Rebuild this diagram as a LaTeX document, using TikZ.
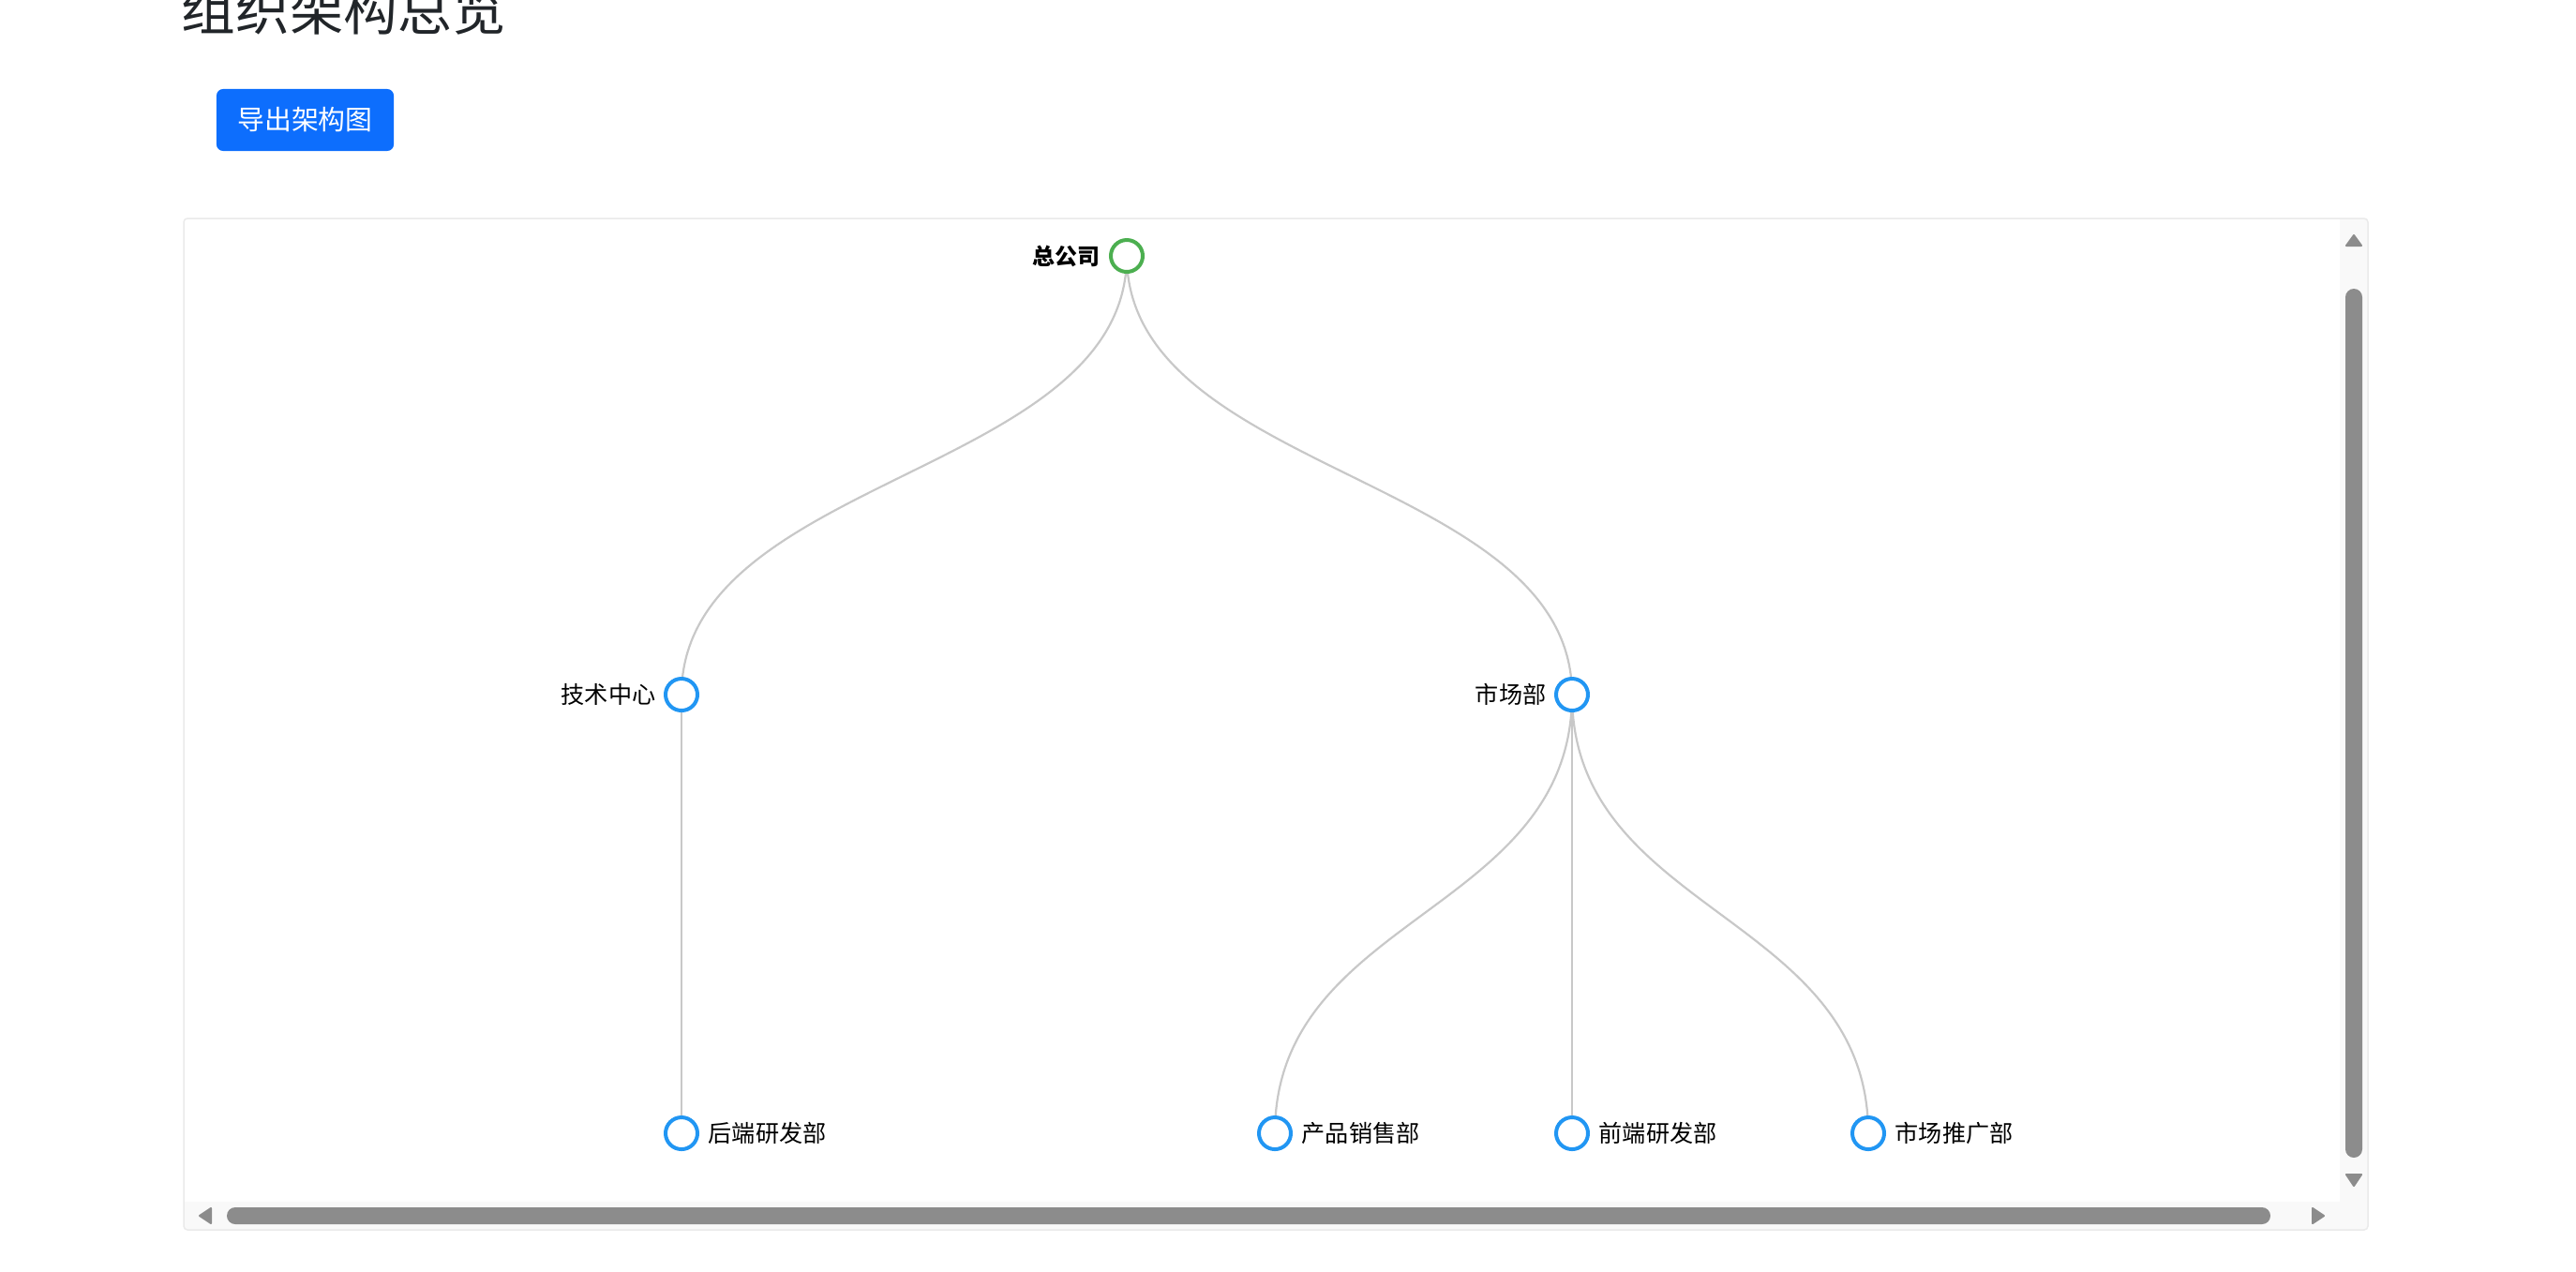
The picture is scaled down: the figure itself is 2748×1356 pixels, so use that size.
\documentclass[tikz,border=0pt]{standalone}
\usepackage{fontspec}
\setmainfont{Noto Sans CJK SC}
\usetikzlibrary{calc}
\definecolor{titlec}{HTML}{212529}
\definecolor{btnc}{HTML}{0D6EFD}
\definecolor{ngreen}{HTML}{4CAF50}
\definecolor{nblue}{HTML}{2196F3}
\definecolor{linkc}{HTML}{C8C8C8}
\definecolor{panelc}{HTML}{EAEAEA}
\definecolor{trackc}{HTML}{F9F9F9}
\definecolor{thumbc}{HTML}{8C8C8C}
\pgfdeclarelayer{bg}
\pgfsetlayers{bg,main}
\tikzset{
  nd/.style={circle, draw=#1, line width=0.04cm, fill=white, minimum size=0.34cm, inner sep=0pt},
  nd/.default=nblue,
  lbl/.style={inner sep=0pt, text=black, font=\fontsize{7.15pt}{7.2pt}\selectfont},
  link/.style={draw=linkc, line width=0.022cm},
  tri/.style={fill=thumbc, draw=thumbc, line width=0.02cm, line join=round}
}
\begin{document}
\begin{tikzpicture}[x=0.01cm, y=-0.01cm]
\useasboundingbox (0,0) rectangle (2748,1356);
\clip (0,0) rectangle (2748,1356);
% title
\node[anchor=west, inner sep=0pt, text=titlec, font=\fontsize{16.4pt}{16.4pt}\selectfont] (title) at (193,11) {组织架构总览};
% button
\node[fill=btnc, rounded corners=0.07cm, minimum width=1.89cm, minimum height=0.66cm, inner sep=0pt, text=white, font=\fontsize{8.2pt}{8.2pt}\selectfont] (btn) at (325.5,128) {导出架构图};
% panel
\begin{pgfonlayer}{bg}
\fill[trackc] (2496,233) -- (2522,233) arc[start angle=90, end angle=0, radius=0.04cm] -- (2526,1308) arc[start angle=0, end angle=-90, radius=0.04cm] -- (200,1312) arc[start angle=270, end angle=180, radius=0.04cm] -- (196,1282) -- (2496,1282) -- cycle;
\end{pgfonlayer}
\draw[panelc, line width=0.015cm, rounded corners=0.04cm] (196,233) rectangle (2526,1312);
% scrollbars
\fill[thumbc] (2502,317) arc[start angle=180, end angle=0, radius=0.09cm] -- (2520,1226) arc[start angle=0, end angle=-180, radius=0.09cm] -- cycle;
\fill[thumbc] (251,1288) -- (2413,1288) arc[start angle=90, end angle=-90, radius=0.09cm] -- (251,1306) arc[start angle=270, end angle=90, radius=0.09cm] -- cycle;
\filldraw[tri] (2503,262) -- (2519,262) -- (2511,251) -- cycle;
\filldraw[tri] (2503,1253) -- (2519,1253) -- (2511,1265) -- cycle;
\filldraw[tri] (225,1289) -- (225,1305) -- (213,1297) -- cycle;
\filldraw[tri] (2467,1289) -- (2467,1305) -- (2479,1297) -- cycle;
% tree nodes
\node[nd=ngreen] (root) at (1202,273) {};
\node[nd] (tech) at (727,741) {};
\node[nd] (mkt) at (1677,741) {};
\node[nd] (be) at (727,1209) {};
\node[nd] (sales) at (1360,1209) {};
\node[nd] (fe) at (1677,1209) {};
\node[nd] (promo) at (1993,1209) {};
% labels
\node[lbl, anchor=east, font=\fontsize{6.8pt}{7pt}\selectfont\bfseries] (rootl) at (1174,273) {总公司};
\node[lbl, anchor=east] (techl) at (700,741) {技术中心};
\node[lbl, anchor=east] (mktl) at (1650,741) {市场部};
\node[lbl, anchor=west] (bel) at (755,1209) {后端研发部};
\node[lbl, anchor=west] (salesl) at (1388,1209) {产品销售部};
\node[lbl, anchor=west] (fel) at (1705,1209) {前端研发部};
\node[lbl, anchor=west] (promol) at (2021,1209) {市场推广部};
% links
\begin{pgfonlayer}{bg}
\draw[link] (root.center) .. controls (1202,507) and (727,507) .. (tech.center);
\draw[link] (root.center) .. controls (1202,507) and (1677,507) .. (mkt.center);
\draw[link] (tech.center) -- (be.center);
\draw[link] (mkt.center) .. controls (1677,975) and (1360,975) .. (sales.center);
\draw[link] (mkt.center) -- (fe.center);
\draw[link] (mkt.center) .. controls (1677,975) and (1993,975) .. (promo.center);
\end{pgfonlayer}
\end{tikzpicture}
\end{document}
